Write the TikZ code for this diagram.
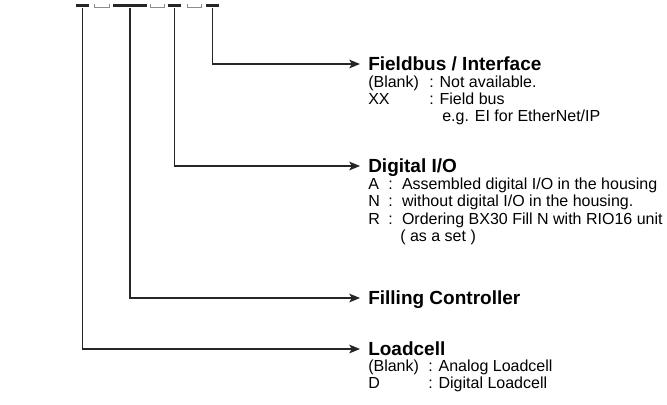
\documentclass[tikz,border=0pt]{standalone}
\usepackage{fontspec}
\setmainfont{Liberation Sans}
\usetikzlibrary{arrows.meta, positioning}

\begin{document}
\begin{tikzpicture}[x=0.75pt, y=-0.75pt,
    seg/.style={fill=black!85, inner sep=0pt, minimum height=2.6pt},
    gapmark/.style={draw=black!45, line width=0.7pt},
    conn/.style={-{Stealth[length=8pt, width=6.5pt, inset=1.8pt]}, line width=1.1pt, draw=black!85, shorten >=6pt},
    head/.style={anchor=west, inner sep=0pt, text height=9pt, text depth=0pt, font=\fontsize{14.25}{16}\selectfont\bfseries},
    desc/.style={anchor=base west, inner sep=0pt, font=\fontsize{12}{14}\selectfont}
  ]
  \useasboundingbox (0,0) rectangle (667,404);

  % Code segments
  \node[seg, minimum width=9.75pt] (loadbar) at (82.5,5.6) {};
  \node[seg, minimum width=25.5pt] (fillbar) at (130,5.6) {};
  \node[seg, minimum width=9.75pt] (iobar) at (174.5,5.6) {};
  \node[seg, minimum width=9.75pt] (busbar) at (212.5,5.6) {};
  \draw[gapmark] (94,4) |- (109,7.6) -- (109,4);
  \draw[gapmark] (150,4) |- (164,7.6) -- (164,4);
  \draw[gapmark] (187,4) |- (201,7.6) -- (201,4);

  % Headings
  \node[head] (fieldbus) at (368,64) {Fieldbus / Interface};
  \node[head] (digio) at (368,166) {Digital I/O};
  \node[head] (filling) at (368,298) {Filling Controller};
  \node[head] (loadcell) at (368,349) {Loadcell};

  % Options
  \node[desc] (fb1) at (368,87.8) {\makebox[45.75pt][l]{(Blank)}: Not available.};
  \node[desc] (fb2) at (368,104.8) {\makebox[45.75pt][l]{XX}: Field bus};
  \node[desc] (fb3) at (442,121.3) {e.g. EI for EtherNet/IP};
  \node[desc] (dio1) at (368,189.8) {\makebox[15pt][l]{A}:\hspace{7pt}Assembled digital I/O in the housing};
  \node[desc] (dio2) at (368,206.8) {\makebox[15pt][l]{N}:\hspace{7pt}without digital I/O in the housing.};
  \node[desc] (dio3) at (368,224.3) {\makebox[15pt][l]{R}:\hspace{7pt}Ordering BX30 Fill N with RIO16 unit};
  \node[desc] (dio4) at (400,241.3) {( as a set )};
  \node[desc] (lc1) at (368,371.8) {\makebox[45pt][l]{(Blank)}: Analog Loadcell};
  \node[desc] (lc2) at (368,388.8) {\makebox[45pt][l]{D}: Digital Loadcell};

  % Connectors
  \draw[conn] (busbar.south) |- (fieldbus.west);
  \draw[conn] (iobar.south) |- (digio.west);
  \draw[conn] (fillbar.south) |- (filling.west);
  \draw[conn] (loadbar.south) |- (loadcell.west);
\end{tikzpicture}
\end{document}
